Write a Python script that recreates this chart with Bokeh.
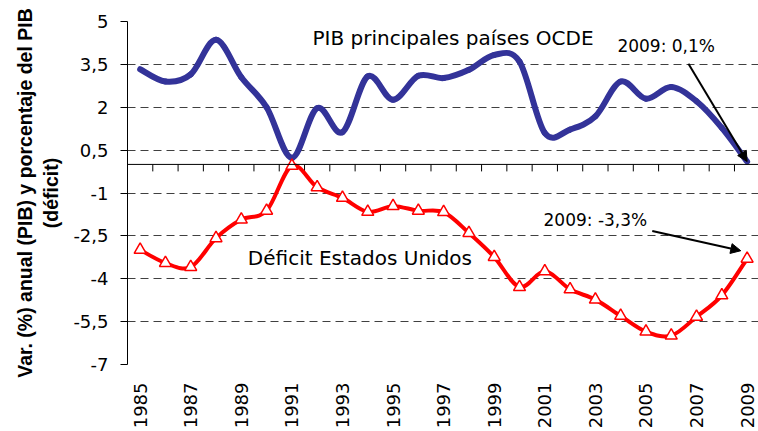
import numpy as np
from bokeh.plotting import figure
from bokeh.models import Range1d, FixedTicker, Span, Label, Arrow, NormalHead, Grid
from bokeh.embed import file_html
from bokeh.resources import INLINE

# ---------------- data ----------------
years = list(range(1985, 2010))
pib_ocde = [3.33, 2.90, 3.15, 4.36, 3.05, 2.00, 0.23, 1.97, 1.13, 3.08,
            2.26, 3.10, 3.02, 3.31, 3.83, 3.60, 1.10, 1.22, 1.68, 2.90,
            2.30, 2.71, 2.21, 1.28, 0.10]
deficit_eeuu = [-2.99, -3.45, -3.59, -2.58, -1.93, -1.62, -0.05, -0.80, -1.17, -1.66,
                -1.46, -1.62, -1.67, -2.40, -3.24, -4.29, -3.74, -4.37, -4.73, -5.30,
                -5.85, -5.99, -5.33, -4.58, -3.30]
y_ticks = [-7, -5.5, -4, -2.5, -1, 0.5, 2, 3.5, 5]
y_tick_labels = ["-7", "-5,5", "-4", "-2,5", "-1", "0,5", "2", "3,5", "5"]
x_tick_years = years[::2]
x_tick_labels = [str(y) for y in x_tick_years]

FONT = "DejaVu Sans"
BLUE = "#333399"
RED = "#ff0000"


def smooth_bezier(xs, ys):
    """Bezier control points (Catmull-Rom style, like Excel's smoothed line)."""
    x = np.asarray(xs, float)
    y = np.asarray(ys, float)
    n = len(x)
    xp = np.concatenate([[x[0]], x, [x[-1]]])
    yp = np.concatenate([[y[0]], y, [y[-1]]])
    cx0 = xp[1:n] + (xp[2:n + 1] - xp[0:n - 1]) / 6
    cy0 = yp[1:n] + (yp[2:n + 1] - yp[0:n - 1]) / 6
    cx1 = xp[2:n + 1] - (xp[3:n + 2] - xp[1:n]) / 6
    cy1 = yp[2:n + 1] - (yp[3:n + 2] - yp[1:n]) / 6
    return dict(x0=x[:-1], y0=y[:-1], x1=x[1:], y1=y[1:],
                cx0=cx0, cy0=cy0, cx1=cx1, cy1=cy1)


p = figure(width=758, height=431,
           x_range=Range1d(years[0] - 0.5, years[-1] + 0.45),
           y_range=Range1d(y_ticks[0], y_ticks[-1]),
           output_backend="svg", toolbar_location=None,
           min_border_left=127, min_border_right=0,
           min_border_top=21, min_border_bottom=66)
p.outline_line_color = None
p.background_fill_color = "white"
p.border_fill_color = "white"

# grids
p.xgrid.visible = False
p.ygrid.ticker = FixedTicker(ticks=y_ticks[1:-1])
p.ygrid.grid_line_color = "#404040"
p.ygrid.grid_line_dash = "8 5"
p.ygrid.grid_line_width = 1
edge_grid = Grid(dimension=1, ticker=FixedTicker(ticks=[y_ticks[0], y_ticks[-1]]),
                 grid_line_color="#d9d9d9", grid_line_dash="8 5", grid_line_width=1)
p.add_layout(edge_grid)

# y axis
p.yaxis.ticker = FixedTicker(ticks=y_ticks)
p.yaxis.major_label_overrides = {t: l for t, l in zip(y_ticks, y_tick_labels)}
p.yaxis.major_tick_out = 7
p.yaxis.major_tick_in = 0
p.yaxis.minor_tick_line_color = None
p.yaxis.axis_line_color = "black"
p.yaxis.major_tick_line_color = "black"
p.yaxis.major_label_standoff = 12
p.yaxis.major_label_text_font = FONT
p.yaxis.major_label_text_font_size = "18px"
p.yaxis.major_label_text_color = "black"
p.yaxis.axis_label = "Var. (%) anual (PIB) y porcentaje del PIB\n(déficit)"
p.yaxis.axis_label_text_font = "Liberation Sans"
p.yaxis.axis_label_text_font_size = "19.5px"
p.yaxis.axis_label_text_font_style = "bold"
p.yaxis.axis_label_text_line_height = 1.2
p.yaxis.axis_label_text_color = "black"
p.yaxis.axis_label_standoff = 8

# x axis (labels only, at the bottom)
p.xaxis.ticker = FixedTicker(ticks=x_tick_years)
p.xaxis.major_label_overrides = {t: l for t, l in zip(x_tick_years, x_tick_labels)}
p.xaxis.major_label_orientation = np.pi / 2
p.xaxis.axis_line_color = None
p.xaxis.major_tick_line_color = None
p.xaxis.minor_tick_line_color = None
p.xaxis.major_tick_out = 0
p.xaxis.major_label_standoff = 18
p.xaxis.major_label_text_font = FONT
p.xaxis.major_label_text_font_size = "18px"
p.xaxis.major_label_text_color = "black"

# zero line with category tick marks
p.add_layout(Span(location=0, dimension="width", line_color="black", line_width=1))
bounds = [y - 0.5 for y in years] + [years[-1] + 0.5]
tick_len = 7 * (y_ticks[-1] - y_ticks[0]) / 344
p.segment(x0=bounds, y0=[0] * len(bounds), x1=bounds, y1=[-tick_len] * len(bounds),
          line_color="black", line_width=1)

# series
p.bezier(**smooth_bezier(years, pib_ocde), line_color=BLUE,
         line_width=6, line_cap="round")
p.bezier(**smooth_bezier(years, deficit_eeuu), line_color=RED,
         line_width=4, line_cap="round")
p.scatter(years, deficit_eeuu, marker="triangle", size=12,
          fill_color="white", line_color=RED, line_width=1.5)

# annotations
p.add_layout(Label(x=1997.37, y=4.43, text="PIB principales países OCDE",
                   text_font=FONT, text_font_size="20px", text_color="black",
                   text_align="center", text_baseline="middle"))
p.add_layout(Label(x=1993.69, y=-3.28, text="Déficit Estados Unidos",
                   text_font=FONT, text_font_size="20px", text_color="black",
                   text_align="center", text_baseline="middle"))
p.add_layout(Label(x=2005.8, y=4.15, text="2009: 0,1%",
                   text_font=FONT, text_font_size="17px", text_color="black",
                   text_align="center", text_baseline="middle"))
p.add_layout(Label(x=2003.0, y=-1.95, text="2009: -3,3%",
                   text_font=FONT, text_font_size="17px", text_color="black",
                   text_align="center", text_baseline="middle"))
p.add_layout(Arrow(end=NormalHead(size=10, fill_color="black", line_color="black"),
                   x_start=2006.68, y_start=3.52, x_end=years[-1], y_end=pib_ocde[-1],
                   line_color="black", line_width=2))
p.add_layout(Arrow(end=NormalHead(size=10, fill_color="black", line_color="black"),
                   x_start=2005.25, y_start=-2.33, x_end=2008.75, y_end=-3.02,
                   line_color="black", line_width=2))

open("out.html", "w").write(file_html(p, INLINE))
